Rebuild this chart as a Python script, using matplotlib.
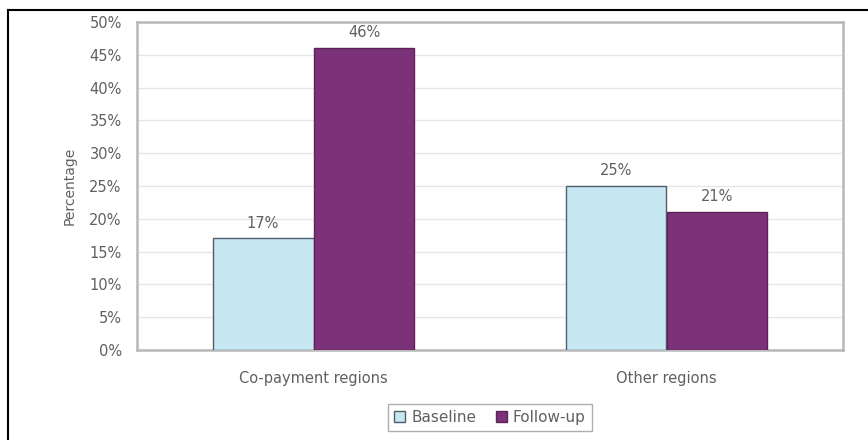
import matplotlib
matplotlib.use("Agg")
import matplotlib.pyplot as plt
from matplotlib.lines import Line2D
from matplotlib.ticker import MultipleLocator, FuncFormatter
import numpy as np

plt.rcParams['font.family'] = ['DejaVu Sans']

regions = ["Co-payment regions", "Other regions"]
baseline = [17, 25]  # %
follow_up = [46, 21]  # %
series_names = ["Baseline", "Follow-up"]

text_col = "#606060"
fs = 10.5
fig = plt.figure(figsize=(8.68, 4.4), dpi=100)
ax = fig.add_axes([137 / 868, 1 - 350 / 440, (843 - 137) / 868, (350 - 22) / 440])

x = np.arange(len(regions))
w = 0.286
b1 = ax.bar(x - w / 2, baseline, w, color="#c7e7f3", edgecolor="#4f5f6a", linewidth=1.0,
            label=series_names[0], zorder=3)
b2 = ax.bar(x + w / 2, follow_up, w, color="#7b3278", edgecolor="#5e2259", linewidth=1.0,
            label=series_names[1], zorder=3)

for bars, vals in ((b1, baseline), (b2, follow_up)):
    for r, v in zip(bars, vals):
        ax.text(r.get_x() + r.get_width() / 2, v + 1.2, "%d%%" % round(v),
                ha="center", va="bottom", fontsize=fs, color=text_col)

ax.set_xlim(-0.5, 1.5)
ax.set_ylim(0, 50)
ax.yaxis.set_major_locator(MultipleLocator(5))
ax.yaxis.set_major_formatter(FuncFormatter(lambda v, p: "%d%%" % v))
ax.set_xticks(x)
ax.set_xticklabels(regions)
ax.tick_params(axis="both", length=0, labelsize=fs, colors=text_col)
ax.tick_params(axis="y", pad=11)
ax.tick_params(axis="x", pad=15)
ax.grid(axis="y", color="#e6e6e6", linewidth=1.0, zorder=0)
for s in ax.spines.values():
    s.set_color("#b8b8b8")
    s.set_linewidth(1.8)
ax.set_ylabel("Percentage", fontsize=fs - 0.5, color=text_col, labelpad=9)

leg = ax.legend(loc="upper center", bbox_to_anchor=(0.5, -0.14), ncol=2, frameon=True,
                fancybox=False, fontsize=fs + 0.5, handlelength=0.7, handleheight=0.7,
                handletextpad=0.4, columnspacing=1.3, borderpad=0.4)
leg.get_frame().set_edgecolor("#9a9a9a")
leg.get_frame().set_linewidth(1.0)
for t in leg.get_texts():
    t.set_color(text_col)

# outer frame, top and left edges only
fig.add_artist(Line2D([8 / 868, 1], [1 - 10 / 440] * 2, color="black", linewidth=1.5,
                      transform=fig.transFigure))
fig.add_artist(Line2D([8 / 868] * 2, [0, 1 - 10 / 440], color="black", linewidth=1.5,
                      transform=fig.transFigure))

fig.savefig("out.png", dpi=100)
